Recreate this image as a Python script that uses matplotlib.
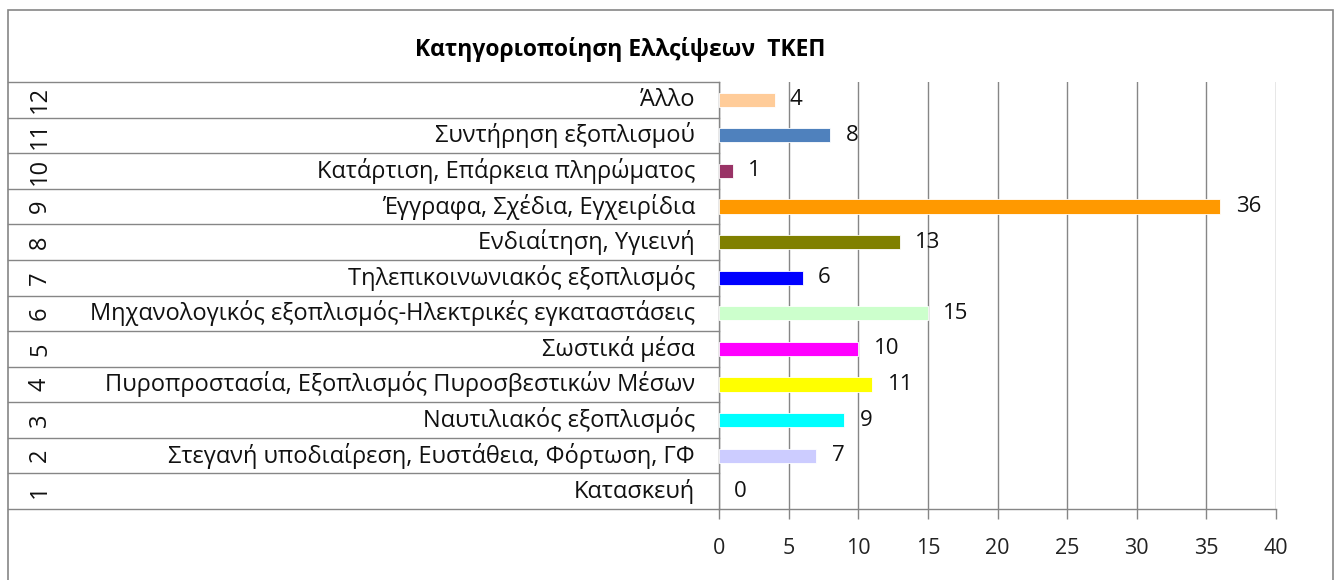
import matplotlib
matplotlib.use("Agg")
import matplotlib.pyplot as plt
from matplotlib.transforms import blended_transform_factory
from matplotlib.patches import Rectangle

plt.rcParams['font.family'] = ['Open Sans', 'Noto Sans', 'DejaVu Sans']

title = "Κατηγοριοποίηση Ελλςίψεων  ΤΚΕΠ"
numbers = ["1", "2", "3", "4", "5", "6", "7", "8", "9", "10", "11", "12"]
categories = [
    "Κατασκευή",
    "Στεγανή υποδιαίρεση, Ευστάθεια, Φόρτωση, ΓΦ",
    "Ναυτιλιακός εξοπλισμός",
    "Πυροπροστασία, Εξοπλισμός Πυροσβεστικών Μέσων",
    "Σωστικά μέσα",
    "Μηχανολογικός εξοπλισμός-Ηλεκτρικές εγκαταστάσεις",
    "Τηλεπικοινωνιακός εξοπλισμός",
    "Ενδιαίτηση, Υγιεινή",
    "Έγγραφα, Σχέδια, Εγχειρίδια",
    "Κατάρτιση, Επάρκεια πληρώματος",
    "Συντήρηση εξοπλισμού",
    "Άλλο",
]
values = [0, 7, 9, 11, 10, 15, 6, 13, 36, 1, 8, 4]
colors = ["#FFFFFF", "#CCCCFF", "#00FFFF", "#FFFF00", "#FF00FF", "#CCFFCC",
          "#0000FF", "#808000", "#FF9900", "#993366", "#4F81BD", "#FFCC99"]
xticks = [0, 5, 10, 15, 20, 25, 30, 35, 40]

W, H = 1336, 580
fig = plt.figure(figsize=(W / 100, H / 100), dpi=100)
fig.patch.set_facecolor("white")

# outer frame
fig.patches.append(Rectangle((8 / W, -0.05), (1333 - 8) / W, 1.05 - 10 / H,
                             transform=fig.transFigure, fill=False,
                             edgecolor="#868686", linewidth=1.2))

ax_left, ax_right = 719 / W, 1276 / W
ax_top, ax_bottom = 1 - 82 / H, 1 - 509 / H
ax = fig.add_axes([ax_left, ax_bottom, ax_right - ax_left, ax_top - ax_bottom])

ypos = list(range(len(categories)))
for y, v, c in zip(ypos, values, colors):
    if v > 0:
        ax.barh(y, v, height=0.4, color=c, edgecolor="white",
                linewidth=0.6, zorder=3)

ax.set_xlim(0, 40)
ax.set_ylim(-0.5, len(categories) - 0.5)
ax.set_xticks(xticks)
ax.set_xticklabels([str(t) for t in xticks], fontsize=15.5, color="#222222")
ax.set_yticks([])
ax.tick_params(axis="x", direction="out", length=7, width=1, color="#868686", pad=14)
ax.grid(axis="x", color="#868686", linewidth=1, zorder=0)
for s in ["top", "right"]:
    ax.spines[s].set_visible(False)
for s in ["left", "bottom"]:
    ax.spines[s].set_color("#868686")
    ax.spines[s].set_linewidth(1)

# data labels
for y, v in zip(ypos, values):
    ax.annotate(str(v), (v, y), xytext=(11, 0), textcoords="offset points",
                ha="left", va="center", fontsize=16, color="#111111")

# category table
tr = blended_transform_factory(fig.transFigure, ax.transData)
x0, x1 = 8 / W, ax_left
for k in range(len(categories) + 1):
    ax.plot([x0, x1], [k - 0.5, k - 0.5], transform=tr, color="#868686",
            linewidth=1, clip_on=False)
for y, cat, num in zip(ypos, categories, numbers):
    ax.text(695 / W, y, cat, transform=tr, ha="right", va="center",
            fontsize=17, color="#111111")
    ax.text(40 / W, y, num, transform=tr, ha="center", va="center",
            rotation=90, fontsize=17, color="#111111")

fig.text(620 / W, 1 - 50 / H, title, ha="center", va="center",
         fontsize=16.5, fontweight="bold", color="#000000")

fig.savefig("out.png", dpi=100)
